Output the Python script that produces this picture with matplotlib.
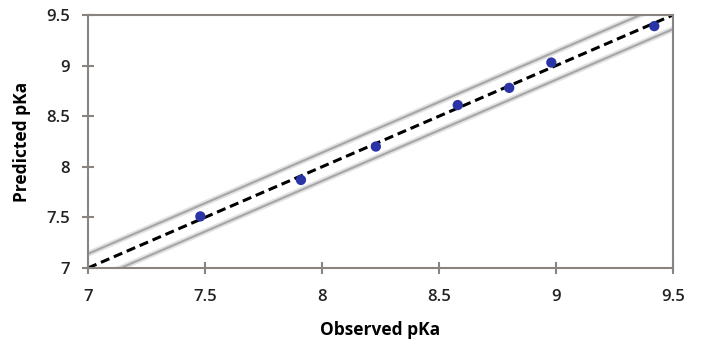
import matplotlib
matplotlib.use("Agg")
import matplotlib.pyplot as plt
import numpy as np

observed = [7.48, 7.91, 8.23, 8.58, 8.80, 8.98, 9.42]
predicted = [7.51, 7.87, 8.20, 8.61, 8.78, 9.03, 9.39]
ticks = [7, 7.5, 8, 8.5, 9, 9.5]
tick_labels = ["7", "7.5", "8", "8.5", "9", "9.5"]
band = 0.14

plt.rcParams['font.family'] = ['Open Sans', 'DejaVu Sans']

fig = plt.figure(figsize=(7.02, 3.43), dpi=100)
ax = fig.add_axes([0.1254, 0.2187, 0.8333, 0.7376])

line_x = np.array([7.0, 9.5])
ax.plot(line_x, line_x + band, color='#e3e3e3', lw=4.2, zorder=1)
ax.plot(line_x, line_x + band, color='#a8a8a8', lw=1.6, zorder=1)
ax.plot(line_x, line_x - band, color='#e3e3e3', lw=4.2, zorder=1)
ax.plot(line_x, line_x - band, color='#a8a8a8', lw=1.6, zorder=1)
ax.plot(line_x, line_x, color='black', lw=2.2, ls=(0, (3, 1.6)), zorder=2)
ax.scatter(observed, predicted, s=55, color='#2b34a6', zorder=3, edgecolors='none')

ax.set_xlim(7, 9.5)
ax.set_ylim(7, 9.5)
ax.set_xticks(ticks)
ax.set_xticklabels(tick_labels)
ax.set_yticks(ticks)
ax.set_yticklabels(tick_labels)

spine_c = '#8a8480'
for s in ax.spines.values():
    s.set_color(spine_c)
    s.set_linewidth(1.5)
ax.tick_params(axis='both', direction='inout', length=8, width=1.5, color=spine_c,
               labelsize=12, labelcolor='#222222')
ax.tick_params(axis='x', pad=11)
ax.tick_params(axis='y', pad=9)
for lab in ax.get_xticklabels() + ax.get_yticklabels():
    lab.set_fontweight('semibold')

ax.set_xlabel("Observed pKa", fontsize=12.5, fontweight='bold', labelpad=12)
ax.set_ylabel("Predicted pKa", fontsize=12.5, fontweight='bold', labelpad=11)

fig.savefig("out.png", dpi=100)
